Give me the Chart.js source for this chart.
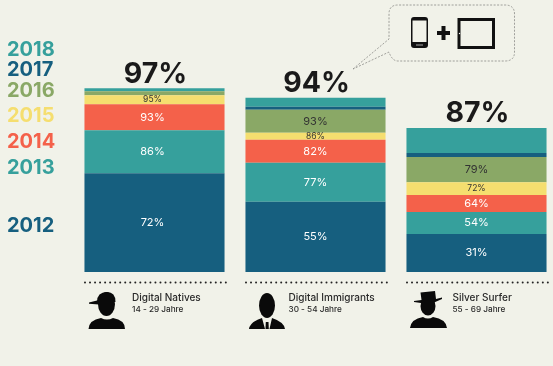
<!DOCTYPE html>
<html lang="de">
<head>
<meta charset="utf-8">
<title>Digital Natives</title>
<script src="https://cdn.jsdelivr.net/npm/chart.js@4/dist/chart.umd.js"></script>
<style>
  html, body { margin: 0; padding: 0; background: #f1f2e9; overflow: hidden; }
  #wrap { position: relative; width: 553px; height: 366px; overflow: hidden; }
  #chart { position: absolute; left: 0; top: 0; }
  .year { position: absolute; left: 7px; font: 700 20px Inter, sans-serif; line-height: 20px; }
  svg { position: absolute; }
</style>
</head>
<body>
<div id="wrap">
  <canvas id="chart" width="580" height="366"></canvas>

  <!-- Sprechblase -->
  <svg style="left:0;top:0" width="553" height="366">
    <path d="M353 69 L389 39 L389 14 Q389 5 398 5 L505 5 Q514.500 5 514.500 14 L514.500 52 Q514.500 61 505 61 L398 61 Q392 61 389 52 Z"
          fill="#f1f2e9" stroke="#8a8a86" stroke-width="0.8" stroke-dasharray="2 1.500"/>
    <rect x="411" y="17" width="17" height="31" rx="3" fill="#111"/>
    <rect x="412.500" y="20.500" width="14" height="21.500" fill="#f1f2e9"/>
    <rect x="416" y="44.500" width="7" height="1" fill="#aaa"/>
    <path d="M437 31h4.500v-5h4v5h4.500v4h-4.500v5h-4v-5h-4.500z" fill="#111"/>
    <rect x="459" y="19.500" width="34.500" height="28" fill="none" stroke="#111" stroke-width="3"/>
    <circle cx="459.500" cy="33.500" r="0.700" fill="#fff"/>
  </svg>

  <!-- Figuren -->
  <svg style="left:0;top:0" width="553" height="366" fill="#0a0a0a">
    <ellipse cx="106.500" cy="304" rx="8.500" ry="12"/>
    <path d="M97 302 Q97 292 107 292 Q115.500 292 115.500 302 Z"/>
    <path d="M89 302.500 L99 300 L99 304.500 L89 303.800 Z"/>
    <path d="M88.500 329 Q89 320 101 318 Q107 321 113 318 Q125 320 125 329 Z"/>

    <ellipse cx="267" cy="305.500" rx="8" ry="12.500"/>
    <path d="M249 329 Q250 322 262 318 L265 329 Z M285 329 Q284 322 272 318 L269.500 329 Z"/>
    <path d="M265.800 322 L268.500 322 L268.800 329 L265.500 329 Z"/>

    <ellipse cx="428" cy="306" rx="7.500" ry="9.500"/>
    <path d="M414 301 L421.500 300 L420.500 292.500 L435 291 L436 299 L442 297.500 L442 299 L433 303 L421 303 L414 302 Z"/>
    <path d="M410 328 Q411 319 423 317 Q428 320 433 317 Q446 319 447 328 Z"/>
  </svg>

  <div class="year" style="top:39px;color:#36a09c">2018</div>
  <div class="year" style="top:59px;color:#165f7f">2017</div>
  <div class="year" style="top:80px;color:#8aa866">2016</div>
  <div class="year" style="top:105px;color:#f5de6f">2015</div>
  <div class="year" style="top:131px;color:#f4614a">2014</div>
  <div class="year" style="top:157px;color:#36a09c">2013</div>
  <div class="year" style="top:215px;color:#165f7f">2012</div>
</div>

<script>
const categories = ['Digital Natives', 'Digital Immigrants', 'Silver Surfer'];
const ageGroups = ['14 - 29 Jahre', '30 - 54 Jahre', '55 - 69 Jahre'];
const totals = ['97%', '94%', '87%'];
const years = ['2012', '2013', '2014', '2015', '2016', '2017', '2018'];

// Segmenthoehen wie in der Grafik abgelesen (nicht proportional zu den Prozentwerten)
const h2012 = [52, 37, 20];
const h2013 = [22.6, 20.5, 11.6];
const h2014 = [13.7, 12.1, 8.9];
const h2015 = [4.7, 3.7, 6.8];
const h2016 = [2.1, 12.1, 13.2];
const h2017 = [0, 1.6, 2.1];
const h2018 = [1.6, 4.7, 13.2];

// Beschriftungen in den Segmenten
const l2012 = ['72%', '55%', '31%'];
const l2013 = ['86%', '77%', '54%'];
const l2014 = ['93%', '82%', '64%'];
const l2015 = ['95%', '86%', '72%'];
const l2016 = ['', '93%', '79%'];

const colBlue = '#165f7f', colTeal = '#36a09c', colRed = '#f4614a', colYellow = '#f5de6f', colOlive = '#8aa866';

function ds(i, data, color, labels, labelColor, labelSize) {
  return { label: years[i], data, backgroundColor: color, labels, labelColor, labelSize };
}

const segmentLabels = {
  id: 'segmentLabels',
  afterDatasetsDraw(chart) {
    const ctx = chart.ctx;
    const y = chart.scales.y;
    const x = chart.scales.x;
    ctx.save();
    ctx.textAlign = 'center';
    ctx.textBaseline = 'middle';
    chart.data.datasets.forEach((d, i) => {
      if (!d.labels) return;
      chart.getDatasetMeta(i).data.forEach((bar, j) => {
        if (!d.labels[j]) return;
        ctx.font = '400 ' + d.labelSize + 'px Inter, sans-serif';
        ctx.fillStyle = d.labelColor;
        ctx.fillText(d.labels[j], bar.x - (j === 0 ? 2 : 0), (bar.y + bar.base) / 2);
      });
    });
    // Gesamtwerte ueber den Balken
    ctx.fillStyle = '#1a1a1a';
    ctx.font = '700 28.5px Inter, sans-serif';
    ctx.textBaseline = 'alphabetic';
    categories.forEach((c, j) => {
      const top = chart.getDatasetMeta(chart.data.datasets.length - 1).data[j].y;
      ctx.fillText(totals[j], x.getPixelForValue(j) + 1, top - 5.5);
    });
    // Punktlinie und Beschriftung unter den Balken
    const base = y.getPixelForValue(0);
    const captionShift = [-22.5, -27, -24];
    categories.forEach((c, j) => {
      const cx = x.getPixelForValue(j);
      ctx.fillStyle = '#222';
      for (let k = 0; k < 29; k++) {
        ctx.beginPath();
        ctx.arc(cx - 69.5 + k * 5.03, base + 10.5, 1, 0, Math.PI * 2);
        ctx.fill();
      }
      ctx.textAlign = 'left';
      ctx.fillStyle = '#2a2a2a';
      ctx.font = '500 10px Inter, sans-serif';
      ctx.fillText(c, cx + captionShift[j], base + 29);
      ctx.font = '500 8.2px Inter, sans-serif';
      ctx.fillText(ageGroups[j], cx + captionShift[j], base + 39.5);
      ctx.textAlign = 'center';
    });
    ctx.restore();
  }
};

new Chart(document.getElementById('chart'), {
  type: 'bar',
  data: {
    labels: categories,
    datasets: [
      ds(0, h2012, colBlue, l2012, '#fff', 11),
      ds(1, h2013, colTeal, l2013, '#fff', 11),
      ds(2, h2014, colRed, l2014, '#fff', 11),
      ds(3, h2015, colYellow, l2015, '#333', 8.5),
      ds(4, h2016, colOlive, l2016, '#333', 11),
      ds(5, h2017, colBlue),
      ds(6, h2018, colTeal)
    ]
  },
  options: {
    responsive: false,
    animation: false,
    layout: { padding: { left: 74, right: 23, top: 82, bottom: 94 } },
    datasets: { bar: { barPercentage: 1, categoryPercentage: 0.87 } },
    scales: {
      x: { stacked: true, display: false },
      y: { stacked: true, display: false, min: 0, max: 100 }
    },
    plugins: { legend: { display: false }, tooltip: { enabled: false } }
  },
  plugins: [segmentLabels]
});
</script>
</body>
</html>
